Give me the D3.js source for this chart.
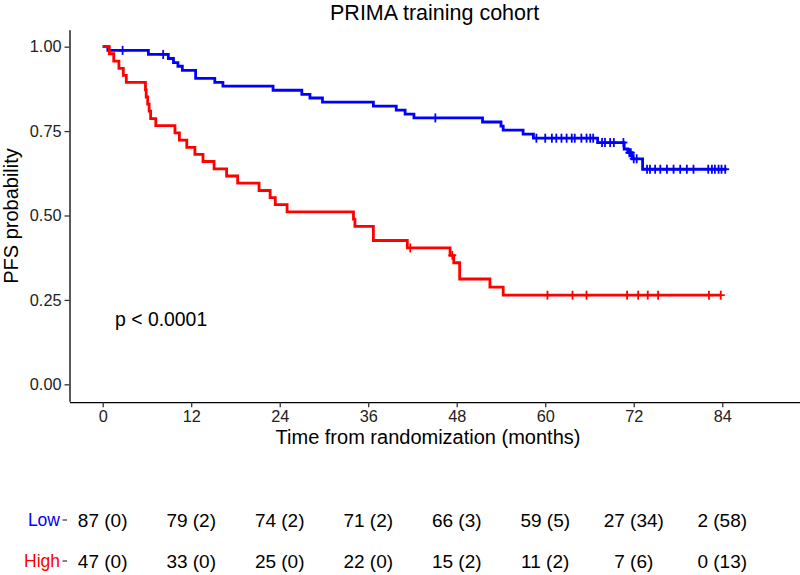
<!DOCTYPE html>
<html>
<head>
<meta charset="utf-8">
<script src="https://cdn.jsdelivr.net/npm/d3@7"></script>
<style>
  html, body { margin: 0; padding: 0; background: #fff; }
  svg { display: block; font-family: "Liberation Sans", Arial, sans-serif; }
</style>
</head>
<body>
<svg id="chart" width="800" height="575"></svg>
<script>
// ---------------- data ----------------
const lowTimes = [0, 0.7, 6.2, 8.9, 9.6, 10.2, 10.8, 12.6, 15.2, 16.3, 23.1, 27.0, 28.1, 29.8, 36.7, 39.8, 41.0, 42.2, 51.5, 54.0, 54.3, 57.0, 58.4, 67.1, 70.7, 71.2, 71.8, 73.2];
const lowSurv  = [1, 0.989, 0.977, 0.965, 0.953, 0.942, 0.930, 0.906, 0.894, 0.883, 0.871, 0.859, 0.848, 0.836, 0.824, 0.812, 0.800, 0.789, 0.777, 0.765, 0.753, 0.741, 0.729, 0.716, 0.697, 0.686, 0.668, 0.637];
const lowEnd = 84.6;
const lowCensor = [2.7, 8.2, 45.1, 58.8, 60.0, 60.9, 61.5, 62.2, 62.9, 63.6, 64.0, 64.9, 65.6, 66.1, 66.5, 67.7, 68.1, 68.8, 69.3, 70.6, 71.4, 71.6, 72.0, 72.4, 73.8, 74.2, 74.9, 75.6, 76.5, 77.4, 78.3, 79.2, 80.1, 82.1, 82.6, 83.0, 83.5, 83.9, 84.4];

const highTimes = [0, 0.9, 1.5, 2.2, 2.8, 3.2, 5.8, 5.9, 6.1, 6.3, 6.5, 7.2, 9.8, 10.4, 11.4, 12.5, 13.6, 15.1, 16.8, 18.3, 21.2, 22.7, 23.4, 25.0, 34.0, 34.2, 36.7, 41.3, 47.1, 47.6, 48.4, 52.5, 54.3];
const highSurv  = [1, 0.979, 0.957, 0.936, 0.915, 0.894, 0.872, 0.851, 0.830, 0.809, 0.787, 0.766, 0.745, 0.723, 0.702, 0.681, 0.660, 0.638, 0.617, 0.596, 0.574, 0.553, 0.532, 0.511, 0.489, 0.468, 0.426, 0.404, 0.382, 0.360, 0.312, 0.288, 0.264];
const highEnd = 83.8;
const highCensor = [41.7, 47.4, 60.3, 63.7, 65.6, 71.1, 72.6, 73.9, 75.3, 82.2, 83.8];

const xTicks = [0, 12, 24, 36, 48, 60, 72, 84];
const yTicks = [0, 0.25, 0.5, 0.75, 1];

const groups = ["Low", "High"];
const groupColors = ["#0000FF", "#FF0000"];
const lowAtRisk = [87, 79, 74, 71, 66, 59, 27, 2];
const lowCensored = [0, 2, 2, 2, 3, 5, 34, 58];
const highAtRisk = [47, 33, 25, 22, 15, 11, 7, 0];
const highCensored = [0, 0, 0, 0, 2, 2, 6, 13];

const titleText = "PRIMA training cohort";
const xLabel = "Time from randomization (months)";
const yLabel = "PFS probability";
const pText = "p < 0.0001";

// ---------------- layout ----------------
const svg = d3.select("#chart");
const x = d3.scaleLinear().domain([-4.5, 94.5]).range([69.5, 799.7]);
const y = d3.scaleLinear().domain([-0.05, 1.05]).range([401.2, 29.8]);

// title
svg.append("text").attr("x", (x.range()[0] + x.range()[1]) / 2).attr("y", 20)
  .attr("text-anchor", "middle").attr("font-size", 21.5).attr("fill", "#000").text(titleText);

// axes
const gx = svg.append("g").attr("transform", `translate(0,${y(-0.05) + 1})`)
  .call(d3.axisBottom(x).tickValues(xTicks).tickSize(5).tickSizeOuter(0).tickPadding(3).tickFormat(d3.format("d")));
const gy = svg.append("g").attr("transform", `translate(${x(-4.5)},0)`)
  .call(d3.axisLeft(y).tickValues(yTicks).tickSize(5).tickSizeOuter(0).tickPadding(3).tickFormat(d3.format(".2f")));
[gx, gy].forEach(g => {
  g.select(".domain").attr("stroke", "#000").attr("stroke-width", 1.3);
  g.selectAll(".tick line").attr("stroke", "#333").attr("stroke-width", 1.3);
  g.selectAll(".tick text").attr("font-size", 16.3).attr("fill", "#222")
    .attr("font-family", "Liberation Sans, Arial, sans-serif");
});

// axis titles
svg.append("text").attr("x", 428).attr("y", 444).attr("text-anchor", "middle")
  .attr("font-size", 20).attr("fill", "#000").text(xLabel);
svg.append("text").attr("transform", "translate(18,216) rotate(-90)").attr("text-anchor", "middle")
  .attr("font-size", 20).attr("fill", "#000").text(yLabel);

// curves
const line = d3.line().x(d => x(d[0])).y(d => y(d[1])).curve(d3.curveStepAfter);
function drawCurve(times, surv, end, censor, color) {
  const pts = times.map((t, i) => [t, surv[i]]);
  pts.push([end, surv[surv.length - 1]]);
  svg.append("path").datum(pts).attr("d", line)
    .attr("fill", "none").attr("stroke", color).attr("stroke-width", 2.8);
  const survAt = t => { let s = 1; for (let i = 0; i < times.length; i++) if (times[i] <= t) s = surv[i]; return s; };
  const g = svg.append("g");
  censor.forEach(t => {
    const cx = x(t), cy = y(survAt(t));
    g.append("line").attr("x1", cx - 4).attr("x2", cx + 4).attr("y1", cy).attr("y2", cy)
      .attr("stroke", color).attr("stroke-width", 1.8);
    g.append("line").attr("x1", cx).attr("x2", cx).attr("y1", cy - 4.5).attr("y2", cy + 4.5)
      .attr("stroke", color).attr("stroke-width", 1.8);
  });
}
drawCurve(lowTimes, lowSurv, lowEnd, lowCensor, groupColors[0]);
drawCurve(highTimes, highSurv, highEnd, highCensor, groupColors[1]);

// p-value
svg.append("text").attr("x", 115).attr("y", 326).attr("font-size", 19.4).attr("fill", "#000").text(pText);

// risk table
const rowY = [520, 561];
const riskAt = [lowAtRisk, highAtRisk];
const riskCens = [lowCensored, highCensored];
groups.forEach((grp, gi) => {
  svg.append("text").attr("x", 60).attr("y", rowY[gi]).attr("dy", "0.35em")
    .attr("text-anchor", "end").attr("font-size", 17.5).attr("fill", groupColors[gi]).text(grp);
  svg.append("line").attr("x1", 62.5).attr("x2", 67).attr("y1", rowY[gi]).attr("y2", rowY[gi])
    .attr("stroke", "#333").attr("stroke-width", 1.2);
  xTicks.forEach((t, i) => {
    svg.append("text").attr("x", x(t)).attr("y", rowY[gi]).attr("dy", "0.35em")
      .attr("text-anchor", "middle").attr("font-size", 19).attr("fill", "#000")
      .text(`${riskAt[gi][i]} (${riskCens[gi][i]})`);
  });
});
</script>
</body>
</html>
